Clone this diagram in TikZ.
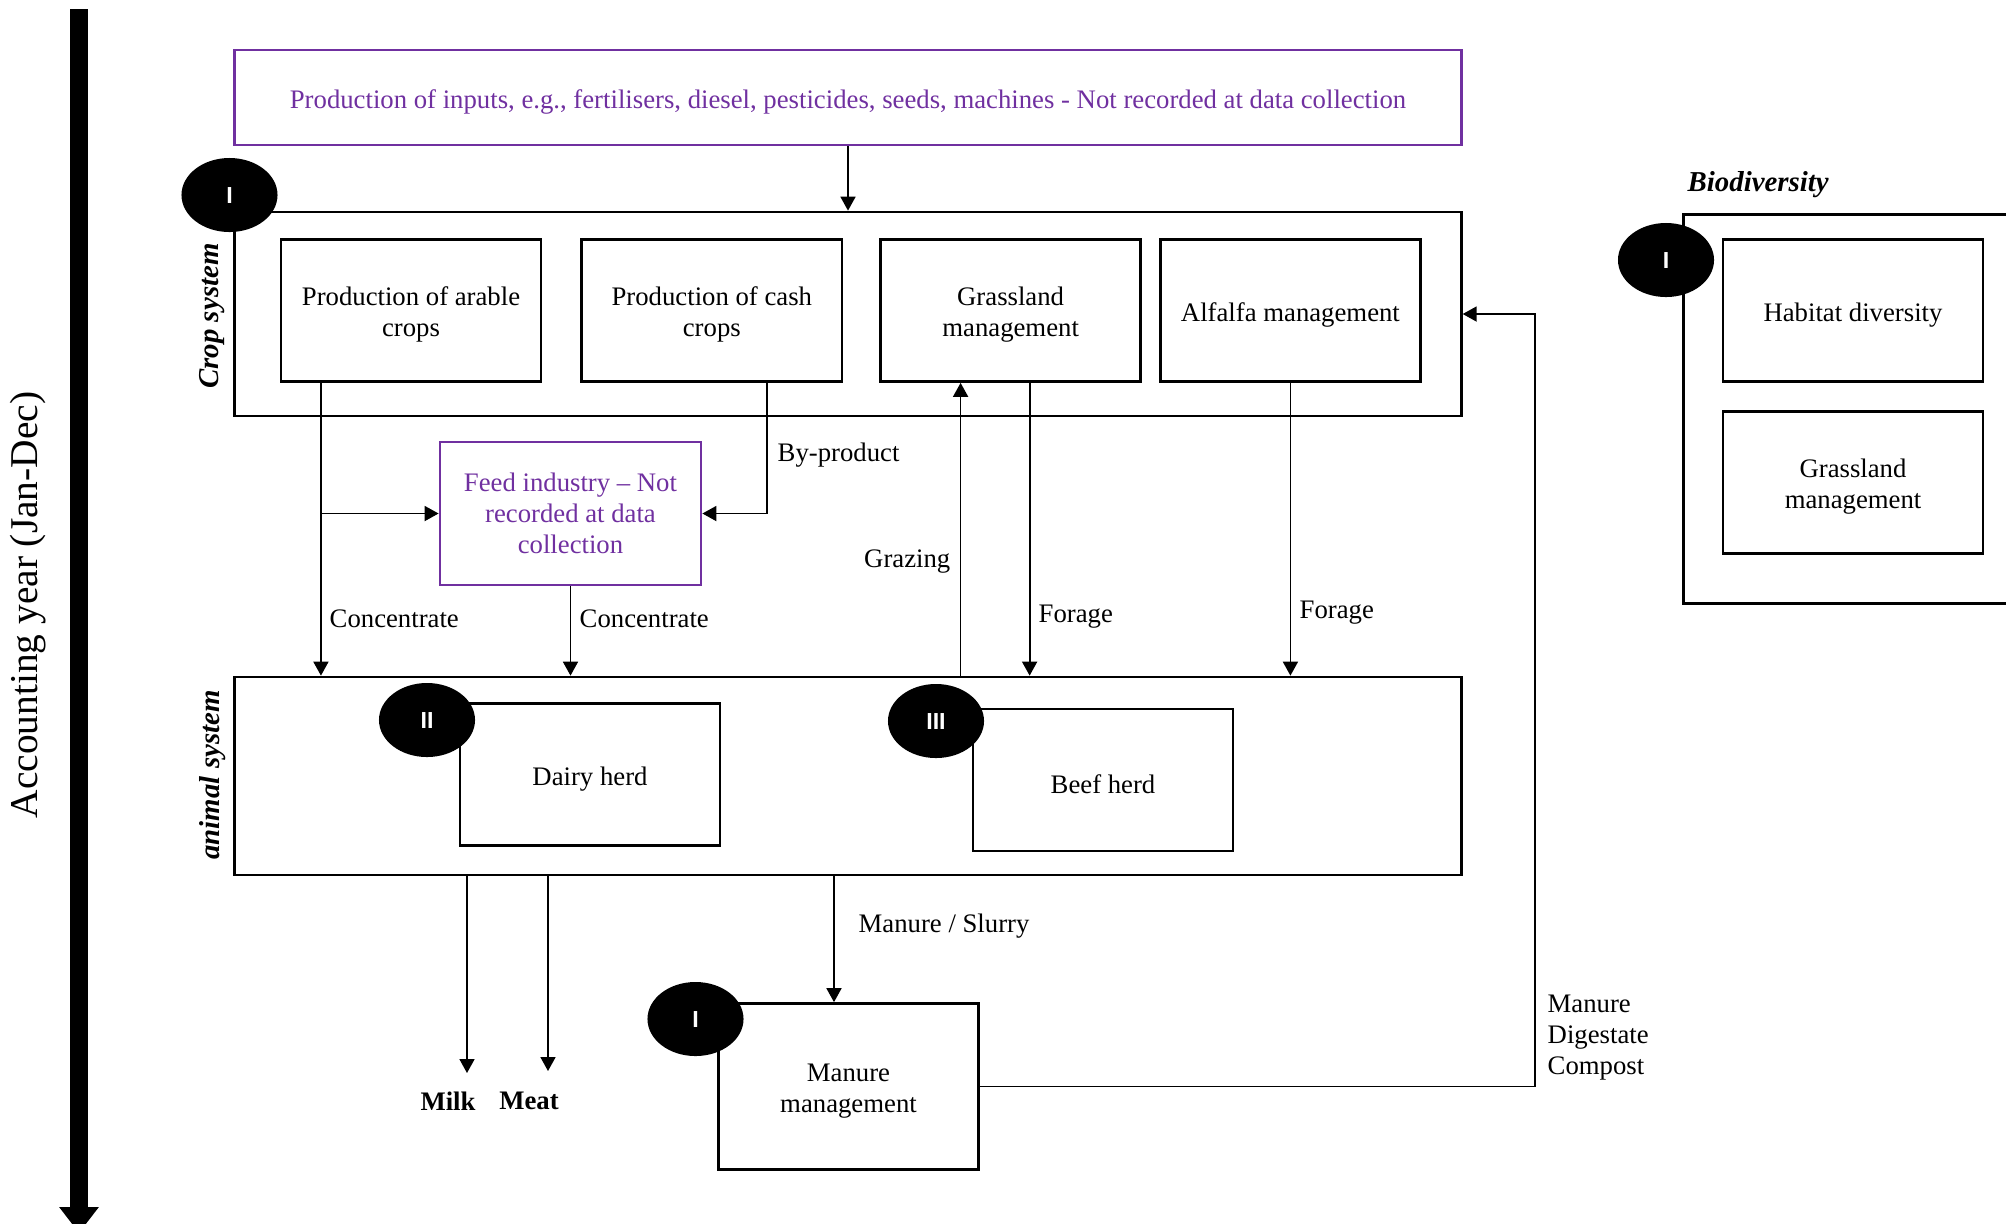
\documentclass[tikz,border=0pt]{standalone}
\usepackage{fontspec}
\setmainfont{Liberation Serif}
\newfontfamily\badgefont{Liberation Sans}
\usepackage{xcolor}
\usepackage{tikz}
\usetikzlibrary{shapes.geometric, arrows.meta, positioning}
\definecolor{inputpurple}{RGB}{112,48,160}
\newcommand{\lifttext}{\rule{0pt}{7.6pt}}

\begin{document}
\begin{tikzpicture}[x=0.01cm, y=-0.01cm,
    every node/.style={font=\fontsize{7.6}{8.8}\selectfont},
    lowtext/.style={execute at begin node={\rule{0pt}{8pt}}},
    box/.style={draw, line width=0.75pt, minimum width=2.6cm, minimum height=1.42cm, align=center, inner sep=0pt, lowtext},
    sysbox/.style={draw, line width=0.75pt, minimum width=12.26cm, inner sep=0pt, align=center},
    badge/.style={ellipse, fill=black, text=white, minimum width=0.96cm, minimum height=0.74cm, inner sep=0pt, font=\badgefont\bfseries\fontsize{6.6}{7}\selectfont},
    sys/.style={rotate=90, inner sep=0pt, font=\bfseries\itshape\fontsize{8.2}{9}\selectfont},
    flow/.style={line width=0.5pt, -{Triangle[length=0.14cm, width=0.15cm]}},
    lbl/.style={inner sep=0pt}]
  \useasboundingbox (0,0) rectangle (2006,1223);
  \clip (0,0) rectangle (2006,1223);

  % time axis
  \draw[line width=0.18cm, -{Triangle[length=0.26cm, width=0.38cm]}] (79,9) -- (79,1233);
  \node[rotate=90, font=\fontsize{11.2}{13}\selectfont] (year) at (28,605) {Accounting year (Jan-Dec)};

  % inputs
  \node[sysbox, lowtext, draw=inputpurple, text=inputpurple, minimum height=0.95cm] (inputs) at (848,97.5)
    {Production of inputs, e.g., fertilisers, diesel, pesticides, seeds, machines - Not recorded at data collection};

  % crop system
  \node[sysbox, minimum height=2.04cm] (crops) at (848,314) {};
  \node[sys] (croplabel) at (212,316) {Crop system};
  \node[box] (arable) at (411,310.5) {\lifttext Production of arable\\crops};
  \node[box, right=0.38cm of arable] (cash) {\lifttext Production of cash\\crops};
  \node[box, right=0.36cm of cash] (grass) {\lifttext Grassland\\management};
  \node[box, right=0.17cm of grass] (alfalfa) {Alfalfa management};

  % feed industry
  \node[box, draw=inputpurple, text=inputpurple, minimum width=2.61cm, minimum height=1.43cm] (feed) at (570.5,513.5)
    {Feed industry – Not\\recorded at data\\collection};

  % animal system
  \node[sysbox, minimum height=1.98cm] (animals) at (848,776) {};
  \node[sys] (animallabel) at (213,775) {animal system};
  \node[box] (dairy) at (590,774.5) {Dairy herd};
  \node[box] (beef) at (1103,780) {Beef herd};

  % manure
  \node[box, minimum height=1.66cm] (manure) at (848.5,1086.5) {\lifttext Manure\\management};

  % biodiversity
  \node[draw, line width=0.75pt, minimum width=4cm, minimum height=3.89cm, anchor=north west, inner sep=0pt] (biodiv) at (1682,213) {};
  \node[lbl, anchor=west, font=\bfseries\itshape\fontsize{8.2}{9}\selectfont] (biolabel) at (1687,185) {Biodiversity};
  \node[box] (habitat) at (1853,310.5) {Habitat diversity};
  \node[box, below=0.27cm of habitat] (biograss) {\lifttext Grassland\\management};

  % badges
  \node[badge] (badgecrop) at (229.5,195) {I};
  \node[badge] (badgebio) at (1666,260) {I};
  \node[badge] (badgedairy) at (427,720) {II};
  \node[badge] (badgebeef) at (936,721) {III};
  \node[badge] (badgemanure) at (695.5,1019) {I};

  % flows
  \draw[flow] (inputs) -- (crops);
  \draw[flow] ([xshift=-0.9cm]arable.south) -- ([xshift=-0.9cm]arable.south |- animals.north);
  \coordinate (branch) at ([xshift=-0.9cm]arable.south |- feed.west);
  \draw[flow] (branch) -- (feed.west);
  \draw[flow] ([xshift=0.555cm]cash.south) |- (feed.east);
  \draw[flow] (feed.south) -- (feed.south |- animals.north);
  \draw[flow] ([xshift=-0.5cm]grass.south |- animals.north) -- ([xshift=-0.5cm]grass.south);
  \draw[flow] ([xshift=0.19cm]grass.south) -- ([xshift=0.19cm]grass.south |- animals.north);
  \draw[flow] (alfalfa.south) -- (alfalfa.south |- animals.north);
  \coordinate (milkend) at (467,1073);
  \coordinate (meatend) at (548,1071);
  \draw[flow] (milkend |- animals.south) -- (milkend);
  \draw[flow] (meatend |- animals.south) -- (meatend);
  \draw[flow] ([xshift=-0.145cm]manure.north |- animals.south) -- ([xshift=-0.145cm]manure.north);
  \draw[flow] (manure.east) -- ++(555,0) |- (crops.east);

  % labels
  \node[lbl, anchor=west] (conc1) at (329,619) {Concentrate};
  \node[lbl, anchor=west] (conc2) at (579,619) {Concentrate};
  \node[lbl, anchor=west] (byprod) at (777,455) {By-product};
  \node[lbl, anchor=east] (grazing) at (951,562) {Grazing};
  \node[lbl, anchor=west] (forage1) at (1038,617) {Forage};
  \node[lbl, anchor=west] (forage2) at (1299,613) {Forage};
  \node[lbl, anchor=west] (slurry) at (858,926) {Manure / Slurry};
  \node[lbl, anchor=west, align=left] (outputs) at (1547,1038) {Manure\\Digestate\\Compost};
  \node[lbl, font=\bfseries\fontsize{7.6}{8.8}\selectfont] (milk) at (448,1101) {Milk};
  \node[lbl, font=\bfseries\fontsize{7.6}{8.8}\selectfont] (meat) at (529,1101) {Meat};
\end{tikzpicture}
\end{document}
